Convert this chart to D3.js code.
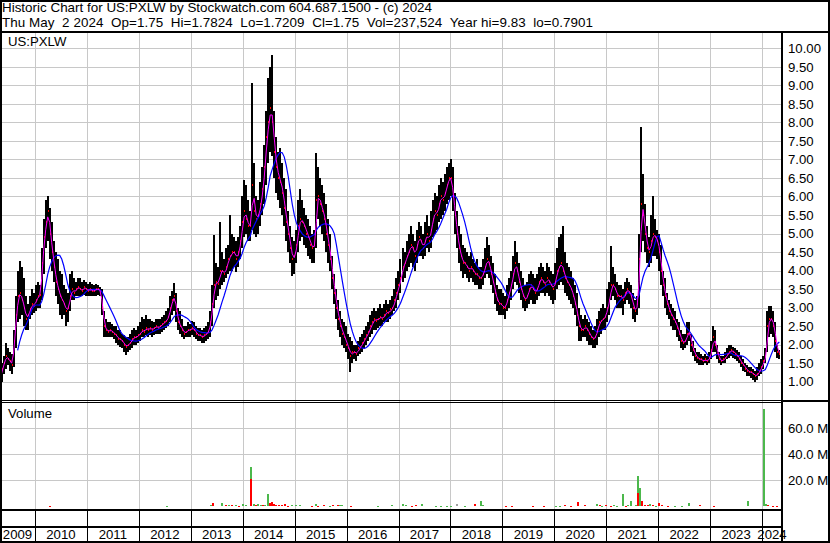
<!DOCTYPE html>
<html lang="en">
<head>
<meta charset="utf-8">
<title>Historic Chart US:PXLW</title>
<script src="https://cdnjs.cloudflare.com/ajax/libs/d3/7.8.5/d3.min.js"></script>
<style>
  body { margin: 0; background: #fff; }
  svg text { font-family: "Liberation Sans", Arial, sans-serif; font-size: 13.2px; fill: #000; }
  .hdr { font-size: 13.4px; }
</style>
</head>
<body>
<script>
// Price bars, one every ~2 weeks from late Apr 2009 to 2 May 2024
var high = [
  1.3,1.5,1.7,2.05,1.9, 1.8,1.75,2.4,3.3,4.0, 4.25,4.1,3.8,3.3,3.1, 3.3,3.5,3.4,3.6,3.7,
  3.6,4.6,5.4,5.9,6.0, 5.7,5.3,4.8,4.5,4.3, 4.0,3.9,3.6,3.5,3.4, 3.9,4.0,3.8,3.7,3.8,
  3.8,3.7,3.75,3.7,3.65, 3.7,3.65,3.6,3.65,3.6, 3.55,3.5,2.9,2.7,2.6, 2.6,2.55,2.5,2.5,2.4,
  2.4,2.3,2.25,2.2,2.2, 2.3,2.4,2.45,2.4,2.5, 2.6,2.75,2.7,2.8,2.7, 2.7,2.65,2.6,2.7,2.7,
  2.7,2.75,2.8,2.9,3.0, 3.3,3.45,3.66,3.4,3.0, 2.9,2.7,2.5,2.5,2.6, 2.55,2.65,2.6,2.5,2.45,
  2.45,2.4,2.45,2.5,2.6, 2.9,3.6,4.96,4.2,4.1, 5.3,4.5,4.3,4.6,4.7, 5.5,5.0,4.9,4.8,4.9,
  5.2,6.0,6.45,6.3,5.9, 5.6,9.07,6.9,6.0,5.9, 6.4,6.8,7.4,8.3,9.2, 9.5,9.83,8.3,7.6,7.2,
  7.3,6.9,6.5,6.2,5.6, 5.2,4.9,4.8,5.1,5.9, 6.2,5.9,5.7,5.5,5.4, 5.2,5.0,5.1,7.17,6.8,
  6.5,6.3,6.1,5.8,5.4, 5.0,4.4,3.9,3.5,3.2, 2.9,2.7,2.6,2.5,2.3, 2.2,2.1,2.0,2.0,2.1,
  2.2,2.3,2.4,2.5,2.6, 2.8,2.9,3.0,2.9,3.0, 3.1,3.0,3.1,3.2,3.1, 3.2,3.3,3.5,3.8,4.0,
  4.3,4.6,4.5,4.8,5.0, 5.2,5.0,4.8,5.1,5.3, 5.2,5.0,5.3,5.5,5.2, 5.6,5.9,6.1,6.0,6.3,
  6.5,6.4,6.6,6.8,6.9, 7.0,6.8,6.1,5.6,5.2, 5.0,4.7,4.6,4.5,4.4, 4.5,4.3,4.2,4.3,4.1,
  4.1,4.3,4.6,4.9,4.7, 4.4,4.2,3.9,3.6,3.5, 3.5,3.4,3.3,3.6,3.8, 4.0,4.4,4.8,4.5,4.2,
  4.0,3.8,3.6,3.7,3.9, 4.0,3.9,3.8,3.9,4.1, 4.2,4.1,4.0,4.2,4.1, 4.0,3.9,4.2,4.6,4.9,
  5.0,5.2,4.5,4.2,4.1, 4.0,3.8,3.6,3.4,3.0, 2.8,2.7,2.8,2.7,2.6, 2.5,2.4,2.5,2.7,2.9,
  3.0,3.1,3.0,3.5,3.7, 4.65,4.1,3.9,3.7,3.6, 3.6,3.5,3.7,3.8,3.7, 3.6,3.4,3.2,3.3,5.0,
  7.87,6.6,5.8,5.2,4.9, 5.5,6.0,5.4,5.1,5.0, 4.7,4.0,3.8,3.4,3.2, 3.1,3.0,2.9,2.7,2.6,
  2.4,2.3,2.3,2.6,2.6, 2.3,2.1,1.9,1.8,1.8, 1.75,1.7,1.75,1.7,1.8, 2.1,2.5,2.4,2.0,1.8,
  1.7,1.7,1.8,1.9,2.0, 2.0,1.95,1.9,1.85,1.8, 1.7,1.6,1.5,1.45,1.4, 1.4,1.35,1.3,1.4,1.5,
  1.6,1.7,1.9,2.9,3.05, 3.05,2.9,2.6,2.0,1.85
];
var low = [
  0.79,1.0,1.2,1.35,1.45, 1.3,1.2,1.4,1.9,2.6, 2.7,2.8,2.5,2.4,2.4, 2.7,2.8,2.85,2.9,3.0,
  3.0,3.2,3.9,4.6,4.8, 4.3,4.0,3.7,3.3,3.1, 2.8,2.7,2.8,2.5,2.6, 2.9,3.2,3.2,3.3,3.3,
  3.3,3.3,3.35,3.3,3.3, 3.3,3.3,3.3,3.3,3.35, 3.3,2.8,2.2,2.2,2.2, 2.2,2.2,2.15,2.05,2.0,
  1.95,1.9,1.8,1.72,1.8, 1.85,1.9,2.0,2.0,2.05, 2.1,2.2,2.2,2.25,2.2, 2.25,2.2,2.25,2.3,2.3,
  2.3,2.35,2.4,2.45,2.5, 2.6,2.8,2.9,2.6,2.4, 2.3,2.2,2.15,2.2,2.2, 2.2,2.25,2.2,2.15,2.1,
  2.1,2.05,2.05,2.1,2.15, 2.2,2.5,3.0,3.2,3.3, 3.5,3.6,3.7,3.8,3.9, 4.0,4.0,4.1,3.95,4.1,
  4.3,4.6,4.9,5.0,4.8, 4.8,5.1,5.0,4.9,5.0, 5.2,5.5,5.8,6.3,6.9, 7.2,7.1,6.5,6.1,5.9,
  5.7,5.5,5.2,4.8,4.5, 4.2,3.85,3.9,4.2,4.5, 4.8,4.9,4.7,4.6,4.4, 4.3,4.2,4.2,4.6,5.4,
  5.2,5.0,4.8,4.5,4.2, 4.0,3.5,3.1,2.7,2.4, 2.2,2.0,1.9,1.8,1.6, 1.25,1.5,1.6,1.55,1.7,
  1.75,1.8,1.9,2.0,2.1, 2.2,2.3,2.4,2.4,2.45, 2.5,2.5,2.6,2.6,2.6, 2.7,2.8,2.9,3.0,3.2,
  3.4,3.7,3.8,4.0,4.1, 4.2,4.1,4.0,4.2,4.4, 4.4,4.3,4.4,4.6,4.5, 4.6,4.9,5.0,5.1,5.3,
  5.4,5.5,5.6,5.8,5.9, 6.0,5.6,5.0,4.6,4.2, 4.0,3.8,3.9,3.8,3.7, 3.8,3.7,3.6,3.6,3.5,
  3.5,3.6,3.8,3.9,3.8, 3.6,3.4,3.1,2.9,2.8, 2.8,2.8,2.7,2.9,3.0, 3.2,3.5,3.7,3.6,3.4,
  3.2,3.0,2.9,3.0,3.1, 3.2,3.1,3.1,3.2,3.3, 3.4,3.4,3.3,3.4,3.3, 3.2,3.1,3.2,3.5,3.6,
  3.7,3.6,3.4,3.3,3.2, 3.1,3.0,2.8,2.5,2.1, 2.1,2.2,2.2,2.1,2.0, 2.0,1.9,1.9,2.0,2.2,
  2.3,2.4,2.4,2.6,2.8, 3.2,3.3,3.2,3.0,3.0, 3.0,2.8,3.1,3.2,3.1, 3.0,2.7,2.6,2.8,3.0,
  4.5,4.8,4.5,4.2,4.1, 4.2,4.4,4.4,4.3,4.0, 3.6,3.3,3.0,2.8,2.7, 2.5,2.4,2.4,2.2,2.1,
  1.9,1.85,1.9,2.0,2.1, 1.8,1.7,1.55,1.5,1.45, 1.45,1.45,1.5,1.45,1.5, 1.6,1.8,1.8,1.6,1.5,
  1.45,1.5,1.5,1.6,1.65, 1.7,1.65,1.6,1.55,1.5, 1.4,1.3,1.25,1.15,1.15, 1.1,1.05,1.0,1.05,1.15,
  1.2,1.35,1.5,1.8,2.2, 2.3,2.2,1.8,1.65,1.6
];
var close = [
  1.1,1.35,1.5,1.7,1.6, 1.55,1.45,2.1,2.8,3.3, 3.4,3.2,3.0,2.7,2.8, 2.95,3.1,3.05,3.2,3.3,
  3.35,4.2,4.9,5.3,5.6, 5.0,4.5,4.1,3.7,3.5, 3.3,3.2,3.1,2.9,3.0, 3.3,3.5,3.4,3.5,3.55,
  3.5,3.45,3.55,3.5,3.45, 3.5,3.45,3.45,3.5,3.5, 3.45,3.0,2.5,2.4,2.35, 2.4,2.35,2.3,2.25,2.15,
  2.15,2.1,2.0,1.95,2.0, 2.05,2.15,2.2,2.2,2.25, 2.3,2.4,2.35,2.45,2.4, 2.45,2.4,2.45,2.5,2.45,
  2.5,2.55,2.6,2.65,2.75, 3.0,3.2,3.3,2.9,2.6, 2.5,2.4,2.3,2.35,2.4, 2.4,2.45,2.4,2.3,2.25,
  2.25,2.2,2.25,2.3,2.35, 2.6,3.1,3.6,3.7,3.65, 4.0,4.0,3.9,4.1,4.3, 4.4,4.5,4.5,4.3,4.5,
  4.8,5.3,5.6,5.4,5.2, 5.2,6.3,5.6,5.4,5.5, 5.8,6.2,6.8,7.6,8.0, 8.4,8.0,7.2,6.8,6.5,
  6.4,6.1,5.7,5.3,5.0, 4.6,4.3,4.4,4.7,5.2, 5.4,5.3,5.2,5.0,4.9, 4.7,4.6,4.7,5.9,6.0,
  5.8,5.6,5.4,5.0,4.7, 4.3,3.8,3.4,3.0,2.7, 2.5,2.3,2.2,2.0,1.9, 1.7,1.8,1.8,1.75,1.9,
  1.95,2.05,2.15,2.25,2.35, 2.5,2.6,2.7,2.65,2.7, 2.75,2.7,2.8,2.9,2.85, 2.95,3.0,3.2,3.4,3.6,
  3.8,4.1,4.2,4.4,4.5, 4.7,4.6,4.4,4.7,4.9, 4.8,4.6,4.8,5.0,4.8, 5.1,5.4,5.6,5.5,5.8,
  6.0,5.9,6.1,6.3,6.5, 6.5,6.0,5.5,5.0,4.6, 4.4,4.2,4.2,4.1,4.0, 4.1,4.0,3.9,3.9,3.8,
  3.8,3.9,4.1,4.3,4.2, 3.9,3.7,3.4,3.2,3.1, 3.1,3.0,3.0,3.2,3.4, 3.6,3.9,4.2,4.0,3.7,
  3.5,3.3,3.2,3.3,3.5, 3.6,3.5,3.4,3.5,3.7, 3.8,3.7,3.6,3.8,3.7, 3.6,3.5,3.7,4.0,4.1,
  4.2,4.0,3.8,3.7,3.6, 3.5,3.3,3.1,2.8,2.5, 2.4,2.4,2.5,2.4,2.3, 2.2,2.15,2.2,2.4,2.6,
  2.65,2.7,2.75,3.0,3.2, 3.6,3.6,3.5,3.3,3.3, 3.3,3.2,3.4,3.5,3.4, 3.3,3.0,2.9,3.1,4.3,
  5.8,5.5,5.0,4.6,4.5, 4.8,5.0,4.9,4.8,4.5, 4.0,3.6,3.3,3.1,2.9, 2.8,2.7,2.6,2.45,2.3,
  2.1,2.05,2.1,2.3,2.35, 2.0,1.85,1.7,1.65,1.6, 1.6,1.55,1.6,1.55,1.65, 1.85,2.2,2.0,1.75,1.6,
  1.55,1.6,1.65,1.75,1.8, 1.85,1.8,1.75,1.7,1.6, 1.5,1.45,1.35,1.3,1.25, 1.25,1.2,1.15,1.2,1.3,
  1.4,1.55,1.7,2.5,2.7, 2.7,2.5,2.1,1.8,1.75
];
var firstDay = Date.UTC(2009, 3, 27);
var lastDay = Date.UTC(2024, 4, 2);

// Volume spikes (decimal year, millions, u=up/d=down/n=unchanged)
var volYear = [2010.29,2012.54,2013.39,2013.43,2013.60,2013.68,2013.74,2013.79,2013.87,2013.93,
  2014.01,2014.06,2014.16,2014.16,2014.22,2014.26,2014.29,2014.35,2014.39,2014.43,2014.49,2014.53,
  2014.56,2014.60,2014.64,2014.70,2014.76,2014.81,2014.87,2014.95,2015.03,2015.10,2015.33,2015.41,
  2015.45,2015.57,2015.68,2015.74,2015.83,2015.87,2015.91,2016.09,2016.61,2016.87,2017.09,2017.14,
  2017.26,2017.34,2017.45,2017.72,2017.82,2017.93,2018.01,2018.13,2018.28,2018.47,2018.59,2018.63,
  2019.07,2019.19,2019.59,2019.80,2020.03,2020.11,2020.21,2020.32,2020.46,2020.59,2020.82,2020.88,
  2020.92,2020.99,2021.09,2021.15,2021.21,2021.32,2021.38,2021.42,2021.48,2021.57,2021.61,2021.61,
  2021.65,2021.69,2021.75,2021.80,2021.84,2021.90,2021.96,2022.02,2022.07,2022.19,2022.32,2022.46,
  2022.59,2022.81,2023.08,2023.73,2024.04,2024.08,2024.12,2024.21,2024.29];
var volM = [0.6,0.5,0.8,2.8,2.8,1.0,0.8,0.8,0.8,0.6,
  1.5,1.0,30.5,21.0,2.0,1.2,1.5,1.0,0.8,1.2,9.7,2.8,
  3.0,1.5,1.0,0.8,0.8,2.0,0.6,0.8,0.8,1.2,0.6,1.5,
  0.6,1.2,0.6,0.8,1.2,1.2,1.0,0.6,0.5,1.2,1.5,1.0,
  0.6,0.8,2.0,0.5,0.5,0.5,0.6,1.5,0.5,2.0,3.9,1.0,
  0.6,0.5,0.5,0.5,0.6,0.5,0.8,0.5,3.3,0.8,1.8,0.9,
  0.6,1.0,0.6,0.8,0.5,9.4,0.6,1.0,4.0,1.2,23.0,10.5,
  14.0,4.0,1.0,0.8,1.5,0.8,0.6,2.6,0.8,0.6,0.5,0.5,
  2.6,0.8,0.6,3.7,74.8,2.0,1.0,0.6,0.6];
var volDir = ["d","u","u","d","u","d","u","d","u","d",
  "u","u","u","d","u","d","u","u","d","u","u","d",
  "d","d","d","d","d","d","d","u","u","u","d","u",
  "d","d","u","d","d","u","u","d","u","u","u","u",
  "d","d","u","u","u","u","u","n","u","d","u","u",
  "d","d","d","d","u","u","d","d","d","d","u","d",
  "u","d","d","u","u","u","d","u","u","u","u","d",
  "u","d","d","d","u","d","u","d","d","d","u","u",
  "u","d","d","u","u","u","d","d","d"];

var priceTicks = d3.range(1, 10.01, 0.5);
var volTicks = [20, 40, 60];
var years = d3.range(2009, 2025);
var title1 = "Historic Chart for US:PXLW by Stockwatch.com 604.687.1500 - (c) 2024";
var title2 = "Thu May  2 2024  Op=1.75  Hi=1.7824  Lo=1.7209  Cl=1.75  Vol=237,524  Year hi=9.83  lo=0.7901";

var W = 830, H = 543;
var chartR = 782;        // right edge of plotting area
var priceTop = 32, priceBot = 400, volTop = 402, volBot = 510, axisMid = 526;

var svg = d3.select("body").append("svg").attr("width", W).attr("height", H);

var x = d3.scaleUtc()
  .domain([new Date(Date.UTC(2010, 0, 1)), new Date(Date.UTC(2024, 0, 1))])
  .range([35, 762]);
var y = d3.scaleLinear().domain([1, 10]).range([381.7, 48.3]);
var yv = d3.scaleLinear().domain([0, 60]).range([506.3, 428.3]);

var yearDate = function(yr) { return new Date(Date.UTC(yr, 0, 1)); };
var decYear = function(v) {
  var yr = Math.floor(v);
  var a = Date.UTC(yr, 0, 1), b = Date.UTC(yr + 1, 0, 1);
  return new Date(a + (v - yr) * (b - a));
};

var n = close.length;
var bars = close.map(function(c, i) {
  return { date: new Date(firstDay + i * (lastDay - firstDay) / (n - 1)),
           hi: high[i], lo: low[i], cl: c, i: i };
});

// simple moving averages of the closes (20 day and 100 day)
var sma = function(len) {
  var out = [];
  for (var i = len - 1; i < n; i++) {
    out.push({ date: bars[i].date, v: d3.mean(bars.slice(i - len + 1, i + 1), function(d) { return d.cl; }) });
  }
  return out;
};
var maShort = sma(2), maLong = sma(10);

// grid
var grid = svg.append("g").attr("stroke", "#c8c8c8").attr("stroke-width", 1).attr("shape-rendering", "crispEdges");
grid.selectAll("line.h")
  .data(priceTicks)
  .enter().append("line")
  .attr("x1", 0).attr("x2", chartR)
  .attr("y1", function(d) { return Math.round(y(d)) + 0.5; })
  .attr("y2", function(d) { return Math.round(y(d)) + 0.5; });
grid.selectAll("line.vh")
  .data(volTicks)
  .enter().append("line")
  .attr("x1", 0).attr("x2", chartR)
  .attr("y1", function(d) { return Math.round(yv(d)) + 0.5; })
  .attr("y2", function(d) { return Math.round(yv(d)) + 0.5; });
grid.selectAll("line.v")
  .data(years.slice(1))
  .enter().append("line")
  .attr("x1", function(d) { return Math.round(x(yearDate(d))) + 0.5; })
  .attr("x2", function(d) { return Math.round(x(yearDate(d))) + 0.5; })
  .attr("y1", priceTop).attr("y2", volBot);

// price plot
svg.append("clipPath").attr("id", "pclip").append("rect")
  .attr("x", 0).attr("y", priceTop).attr("width", chartR).attr("height", priceBot - priceTop);
var plot = svg.append("g").attr("clip-path", "url(#pclip)").attr("shape-rendering", "crispEdges");

plot.selectAll("rect.bar")
  .data(bars)
  .enter().append("rect")
  .attr("x", function(d) { return Math.round(x(d.date)) - 1; })
  .attr("width", 2)
  .attr("y", function(d) { return Math.round(y(d.hi)); })
  .attr("height", function(d) { return Math.max(1, Math.round(y(d.lo)) - Math.round(y(d.hi))); })
  .attr("fill", "#000");

plot.selectAll("rect.cl")
  .data(bars)
  .enter().append("rect")
  .attr("x", function(d) { return Math.round(x(d.date)); })
  .attr("width", 1)
  .attr("y", function(d) { return Math.round(y(d.cl)) - 1; })
  .attr("height", 2)
  .attr("fill", "#ff0000");

var line = d3.line()
  .x(function(d) { return x(d.date); })
  .y(function(d) { return y(d.v); });

svg.append("g").attr("clip-path", "url(#pclip)")
  .append("path").datum(maLong)
  .attr("d", line).attr("fill", "none").attr("stroke", "#0000ff").attr("stroke-width", 1.2);
svg.append("g").attr("clip-path", "url(#pclip)")
  .append("path").datum(maShort)
  .attr("d", line).attr("fill", "none").attr("stroke", "#ff00ff").attr("stroke-width", 1);

// volume bars
var vcol = { u: "#4cb84c", d: "#ff0000", n: "#a0a0a0" };
svg.append("g").attr("shape-rendering", "crispEdges")
  .selectAll("rect")
  .data(volYear.map(function(v, i) { return { date: decYear(v), m: volM[i], dir: volDir[i] }; }))
  .enter().append("rect")
  .attr("x", function(d) { return Math.round(x(d.date)) - 1; })
  .attr("width", 2)
  .attr("y", function(d) { return Math.round(yv(d.m)); })
  .attr("height", function(d) { return Math.max(1, Math.round(yv(0)) - Math.round(yv(d.m))); })
  .attr("fill", function(d) { return vcol[d.dir]; });

// frame
var frame = svg.append("g").attr("fill", "#000").attr("shape-rendering", "crispEdges");
frame.append("rect").attr("x", 0).attr("y", 0).attr("width", W).attr("height", 2);
frame.append("rect").attr("x", 0).attr("y", 0).attr("width", 2).attr("height", H);
frame.append("rect").attr("x", W - 2).attr("y", 0).attr("width", 2).attr("height", H);
frame.append("rect").attr("x", 0).attr("y", H - 2).attr("width", W).attr("height", 2);
frame.append("rect").attr("x", 0).attr("y", 31).attr("width", W).attr("height", 2);
frame.append("rect").attr("x", chartR - 1).attr("y", 31).attr("width", 2).attr("height", H - 31);
frame.append("rect").attr("x", 0).attr("y", priceBot).attr("width", chartR).attr("height", 1);
frame.append("rect").attr("x", 0).attr("y", priceBot + 2).attr("width", chartR).attr("height", 1);
frame.append("rect").attr("x", chartR).attr("y", priceBot).attr("width", W - chartR).attr("height", 2);
frame.append("rect").attr("x", 0).attr("y", volBot - 1).attr("width", chartR).attr("height", 2);
frame.append("rect").attr("x", 0).attr("y", axisMid).attr("width", chartR).attr("height", 2);
frame.selectAll("rect.sep")
  .data(years.slice(1))
  .enter().append("rect")
  .attr("x", function(d) { return Math.round(x(yearDate(d))); })
  .attr("y", volBot).attr("width", 1).attr("height", H - volBot);

// year labels, centred in each year's column
svg.append("g").selectAll("text")
  .data(years)
  .enter().append("text")
  .attr("x", function(d) {
    var a = Math.max(0, x(yearDate(d))), b = Math.min(chartR, x(yearDate(d + 1)));
    return (a + b) / 2;
  })
  .attr("y", 539)
  .attr("text-anchor", "middle")
  .text(function(d) { return d; });

// right axes
var pAxis = svg.append("g")
  .attr("transform", "translate(" + (chartR + 1) + ",0)")
  .call(d3.axisRight(y).tickValues(priceTicks).tickFormat(d3.format(".2f")).tickSize(0).tickPadding(5));
var vAxis = svg.append("g")
  .attr("transform", "translate(" + (chartR + 1) + ",0)")
  .call(d3.axisRight(yv).tickValues(volTicks).tickFormat(function(d) { return d.toFixed(1) + " M"; }).tickSize(0).tickPadding(5));
[pAxis, vAxis].forEach(function(g) {
  g.select(".domain").remove();
  g.attr("font-size", null).attr("font-family", null);
  g.selectAll("text").attr("fill", "#000");
});

// titles (non-breaking spaces keep the double gaps)
svg.append("text").attr("class", "hdr").attr("x", 2).attr("y", 12)
  .attr("textLength", 430).attr("lengthAdjust", "spacing")
  .text(title1.replace(/ /g, "\u00a0"));
svg.append("text").attr("class", "hdr").attr("x", 2).attr("y", 26.5)
  .attr("textLength", 591).attr("lengthAdjust", "spacing")
  .text(title2.replace(/ /g, "\u00a0"));
svg.append("text").attr("x", 8).attr("y", 46).text("US:PXLW");
svg.append("text").attr("x", 8).attr("y", 418).text("Volume");
</script>
</body>
</html>
